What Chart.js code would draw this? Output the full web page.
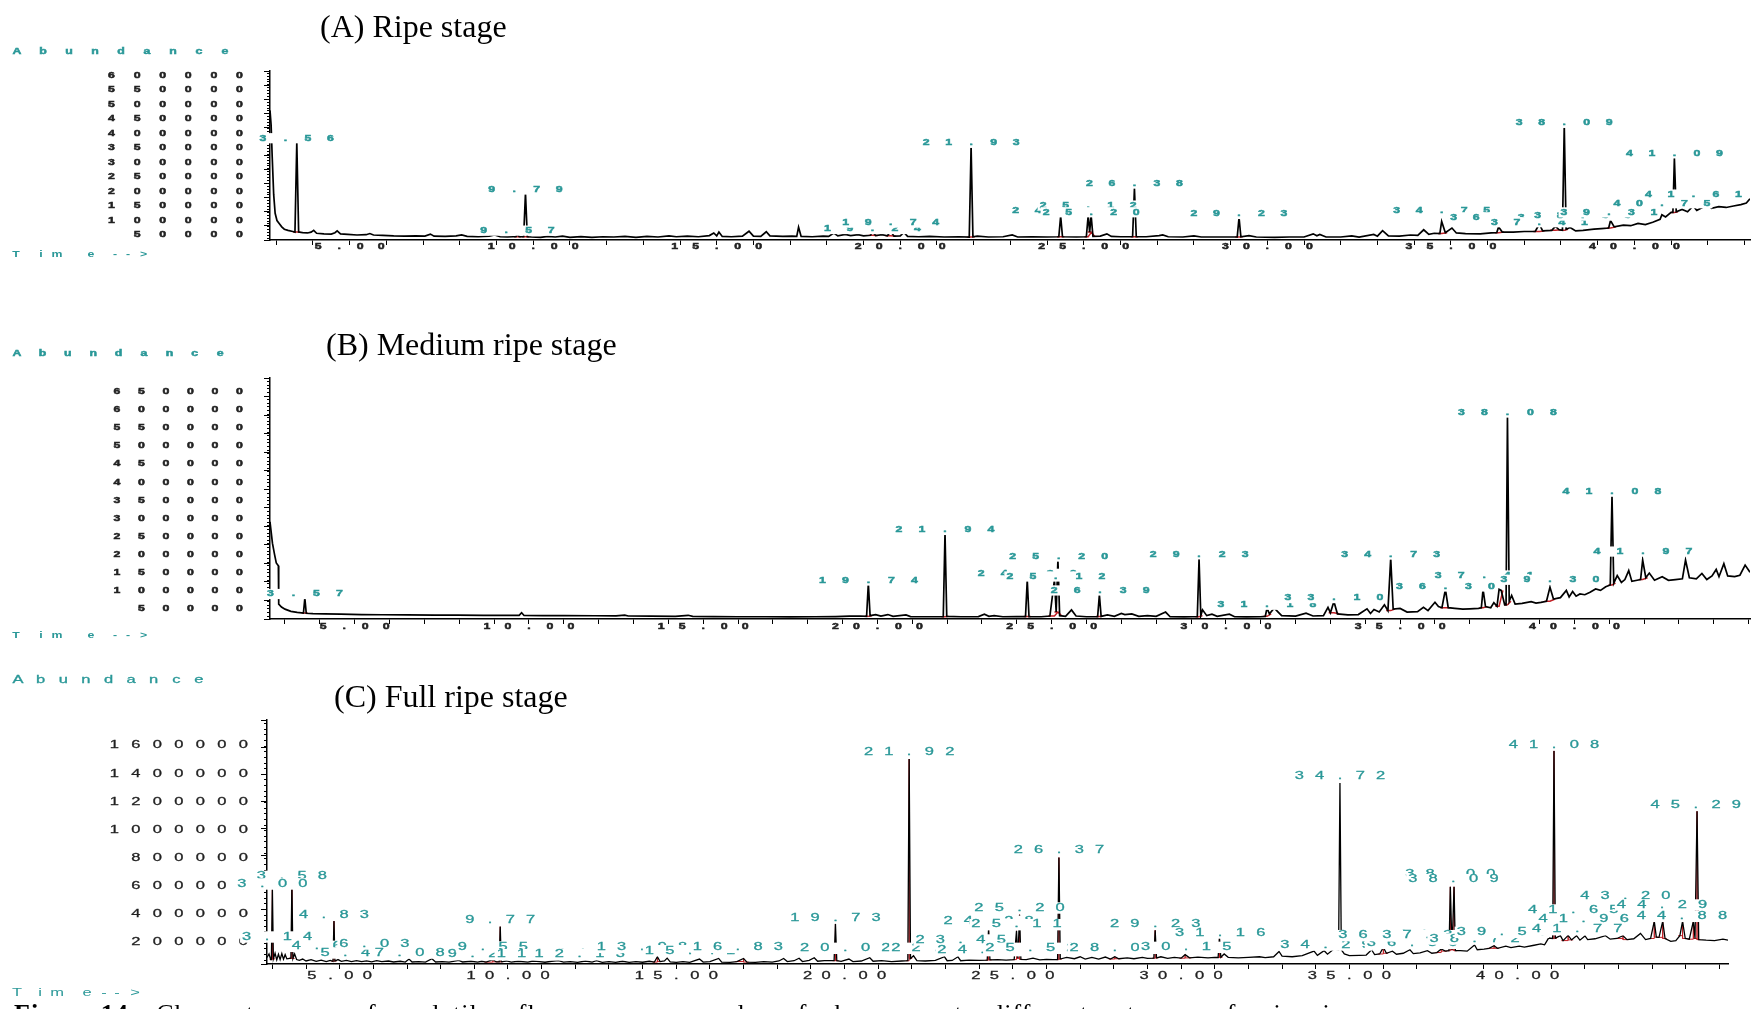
<!DOCTYPE html>
<html lang="en">
<head>
<meta charset="UTF-8">
<title>Chromatograms of banana volatiles</title>
<script src="https://cdn.jsdelivr.net/npm/chart.js@4.4.1/dist/chart.umd.min.js"></script>
<style>
    body { margin: 0; width: 1763px; height: 1009px; overflow: hidden; background: #fff; position: relative; }
    canvas { position: absolute; left: 0; }
    .ttl { position: absolute; font: 32px "Liberation Serif", "Times New Roman", serif; line-height: 1; color: #000; white-space: nowrap; }
    .cap { position: absolute; left: 14px; top: 1001px; font: 26px "Liberation Serif", "Times New Roman", serif; line-height: 1; white-space: nowrap; word-spacing: 20px; letter-spacing: 1px; }
</style>
</head>
<body>
<canvas id="chartA" width="1763" height="290" style="top:0"></canvas>
<canvas id="chartB" width="1763" height="370" style="top:290px"></canvas>
<canvas id="chartC" width="1763" height="349" style="top:660px"></canvas>
<div class="ttl" style="left:320px; top:10px">(A) Ripe stage</div>
<div class="ttl" style="left:326px; top:328px">(B) Medium ripe stage</div>
<div class="ttl" style="left:334px; top:680px">(C) Full ripe stage</div>
<div class="cap"><b style="word-spacing:0">Figure 14</b> Chromatogram of volatile flavour compounds of banana at different stages of ripening</div>

<script>
// ---- data: [retention time (min), abundance] ----
const traceA = [
    [2.83, 480000], [2.86, 430000], [2.89, 320000], [2.93, 190000], [2.97, 125000], [3.02, 100000], [3.08, 90000],
    [3.15, 78000], [3.22, 70000], [3.32, 66000], [3.45, 62000], [3.51, 60000], [3.56, 370000], [3.61, 60000],
    [3.72, 58000], [3.85, 57000], [3.95, 60000], [4.02, 66000], [4.1, 56000], [4.3, 54000], [4.5, 53000],
    [4.6, 58000], [4.66, 64000], [4.75, 54000], [4.95, 52000], [5.2, 50000], [5.45, 51000], [5.55, 55000],
    [5.65, 50000], [5.9, 49000], [6.2, 47000], [6.5, 46000], [6.8, 47000], [7.05, 46000], [7.2, 53000],
    [7.3, 46000], [7.6, 45000], [7.9, 47000], [8.05, 50000], [8.2, 45000], [8.5, 44000], [8.8, 46000],
    [8.95, 50000], [9.1, 44000], [9.3, 43000], [9.45, 44000], [9.53, 44000], [9.57, 54000], [9.62, 44000],
    [9.74, 44000], [9.79, 195000], [9.84, 44000], [9.95, 43000], [10.2, 42000], [10.4, 45000], [10.6, 43000],
    [10.8, 46000], [11.0, 42000], [11.3, 44000], [11.6, 42000], [11.9, 44000], [12.2, 43000], [12.5, 45000],
    [12.8, 42000], [13.1, 45000], [13.4, 43000], [13.7, 47000], [13.9, 44000], [14.2, 46000], [14.5, 44000],
    [14.8, 48000], [14.92, 57000], [15.0, 47000], [15.06, 60000], [15.15, 45000], [15.4, 44000], [15.7, 46000],
    [15.88, 63000], [16.0, 46000], [16.2, 45000], [16.35, 61000], [16.45, 47000], [16.8, 45000], [17.05, 46000],
    [17.18, 45000], [17.23, 77000], [17.3, 45000], [17.6, 44000], [17.9, 46000], [18.05, 45000], [18.19, 57000],
    [18.3, 47000], [18.5, 52000], [18.65, 48000], [18.85, 51000], [19.0, 47000], [19.19, 49000], [19.24, 62000],
    [19.33, 48000], [19.5, 51000], [19.65, 47000], [19.74, 63000], [19.83, 46000], [20.0, 47000], [20.1, 59000],
    [20.2, 45000], [20.5, 44000], [20.8, 45000], [21.2, 43000], [21.6, 44000], [21.88, 43000], [21.93, 355000],
    [21.98, 44000], [22.1, 46000], [22.4, 43000], [22.8, 44000], [23.05, 50000], [23.2, 43000], [23.6, 44000],
    [24.0, 43000], [24.32, 44000], [24.37, 115000], [24.42, 44000], [24.8, 43000], [25.07, 44000], [25.12, 118000],
    [25.16, 60000], [25.2, 118000], [25.25, 45000], [25.45, 46000], [25.63, 54000], [25.75, 45000], [26.0, 44000],
    [26.33, 44000], [26.38, 210000], [26.43, 44000], [26.7, 44000], [27.05, 48000], [27.15, 50000], [27.3, 44000],
    [27.7, 43000], [28.0, 47000], [28.2, 43000], [28.6, 43000], [29.0, 43000], [29.18, 43000], [29.23, 110000],
    [29.28, 44000], [29.5, 48000], [29.7, 43000], [30.2, 42000], [30.6, 43000], [31.0, 43000], [31.25, 54000],
    [31.35, 47000], [31.43, 52000], [31.6, 43000], [32.0, 43000], [32.3, 47000], [32.5, 43000], [32.9, 52000],
    [33.0, 46000], [33.14, 65000], [33.3, 47000], [33.6, 46000], [33.9, 50000], [34.1, 49000], [34.26, 68000],
    [34.4, 52000], [34.55, 56000], [34.7, 55000], [34.75, 97000], [34.85, 58000], [35.03, 74000], [35.15, 57000],
    [35.4, 55000], [35.8, 54000], [36.1, 57000], [36.25, 58000], [36.3, 78000], [36.4, 60000], [36.7, 60000],
    [37.0, 62000], [37.3, 62000], [37.41, 88000], [37.5, 64000], [37.75, 66000], [37.85, 80000], [37.95, 68000],
    [38.04, 66000], [38.09, 428000], [38.14, 70000], [38.25, 76000], [38.4, 64000], [38.6, 66000], [38.9, 70000],
    [39.1, 72000], [39.3, 74000], [39.35, 100000], [39.45, 78000], [39.7, 84000], [39.9, 82000], [40.1, 90000],
    [40.3, 86000], [40.5, 94000], [40.7, 104000], [40.75, 120000], [40.85, 112000], [41.0, 128000], [41.05, 128000],
    [41.09, 315000], [41.14, 130000], [41.3, 138000], [41.45, 130000], [41.6, 150000], [41.7, 135000],
    [41.85, 145000], [42.0, 158000], [42.1, 142000], [42.3, 148000], [42.5, 145000], [42.7, 150000],
    [42.9, 155000], [43.05, 160000], [43.15, 175000]
];
const traceB = [
    [2.57, 290000], [2.64, 231000], [2.7, 200000], [2.75, 176000], [2.81, 168000], [2.82, 62000], [2.9, 54000],
    [3.0, 48000], [3.17, 42000], [3.35, 39000], [3.53, 37000], [3.57, 79000], [3.61, 36500], [3.8, 35500],
    [4.13, 35000], [4.6, 34000], [5.2, 33000], [5.8, 32500], [6.5, 32000], [7.3, 31500], [7.96, 31600],
    [8.7, 31000], [9.3, 30800], [9.72, 31000], [9.79, 38000], [9.86, 30500], [10.4, 30200], [11.0, 30000],
    [11.9, 29700], [12.5, 29500], [12.75, 31500], [12.85, 29000], [13.5, 28500], [14.2, 28000], [14.57, 31000],
    [14.7, 28000], [15.3, 27500], [16.0, 27000], [16.8, 27000], [17.5, 26800], [18.2, 27000], [18.8, 27500],
    [19.2, 28500], [19.5, 29000], [19.69, 28000], [19.74, 120000], [19.79, 30000], [19.95, 33000], [20.1, 29000],
    [20.3, 33000], [20.45, 28000], [20.82, 32000], [20.95, 27500], [21.4, 27000], [21.89, 27000], [21.94, 259000],
    [21.99, 28000], [22.4, 27000], [22.9, 27500], [23.07, 34000], [23.2, 28000], [23.35, 30000], [23.6, 27000],
    [24.0, 27500], [24.25, 27500], [24.3, 129000], [24.35, 27500], [24.7, 27000], [24.95, 29000], [25.08, 129000],
    [25.13, 40000], [25.18, 185000], [25.23, 30000], [25.4, 28000], [25.57, 46000], [25.7, 29000], [26.0, 27000],
    [26.32, 27500], [26.37, 88000], [26.42, 28000], [26.6, 32000], [26.8, 28000], [27.0, 36000], [27.1, 33000],
    [27.3, 35000], [27.5, 28000], [27.75, 30000], [28.0, 28000], [28.27, 40000], [28.4, 27000], [28.8, 26500],
    [29.05, 27000], [29.18, 27000], [29.23, 187000], [29.28, 30000], [29.33, 46000], [29.45, 30000], [29.6, 34000],
    [29.75, 28000], [30.1, 34000], [30.25, 27000], [30.6, 26500], [31.0, 27000], [31.13, 28000], [31.18, 51000],
    [31.25, 35000], [31.39, 51000], [31.5, 40000], [31.6, 30000], [32.0, 28500], [32.3, 37000], [32.5, 29000],
    [32.8, 30000], [32.93, 53000], [33.0, 38000], [33.1, 69000], [33.2, 35000], [33.5, 32000], [33.8, 33000],
    [34.05, 49000], [34.15, 36000], [34.25, 47000], [34.4, 40000], [34.55, 60000], [34.65, 44000], [34.73, 189000],
    [34.8, 48000], [35.0, 50000], [35.2, 40000], [35.5, 41000], [35.67, 53000], [35.8, 44000], [36.0, 67000],
    [36.1, 55000], [36.2, 52000], [36.3, 103000], [36.38, 52000], [36.57, 50000], [36.8, 48000], [37.0, 49000],
    [37.25, 50000], [37.33, 52000], [37.38, 103000], [37.45, 55000], [37.6, 52000], [37.69, 66000], [37.78, 56000],
    [37.84, 103000], [37.9, 100000], [38.0, 60000], [38.04, 60000], [38.08, 581000], [38.13, 70000], [38.2, 86000],
    [38.3, 62000], [38.5, 64000], [38.76, 69000], [38.9, 65000], [39.04, 67000], [39.2, 70000], [39.3, 109000],
    [39.4, 76000], [39.6, 80000], [39.77, 100000], [39.85, 82000], [39.95, 97000], [40.05, 84000], [40.16, 90000],
    [40.3, 88000], [40.45, 95000], [40.61, 104000], [40.75, 100000], [40.9, 110000], [41.03, 115000],
    [41.08, 362000], [41.13, 120000], [41.23, 141000], [41.35, 122000], [41.45, 130000], [41.56, 155000],
    [41.65, 125000], [41.8, 128000], [41.9, 130000], [41.96, 184000], [42.05, 135000], [42.15, 148000],
    [42.3, 128000], [42.52, 138000], [42.7, 128000], [42.9, 130000], [43.1, 132000], [43.19, 184000],
    [43.3, 135000], [43.5, 132000], [43.66, 147000], [43.8, 130000], [43.95, 140000], [44.07, 158000],
    [44.15, 138000], [44.29, 174000], [44.4, 140000], [44.6, 138000], [44.75, 142000], [44.9, 170000],
    [45.04, 150000]
];
const traceC = [
    [2.84, 95000], [2.9, 120000], [2.95, 80000], [2.97, 80000], [3.0, 580000], [3.03, 85000], [3.08, 125000],
    [3.13, 78000], [3.18, 118000], [3.23, 80000], [3.28, 122000], [3.33, 82000], [3.38, 115000], [3.43, 85000],
    [3.55, 90000], [3.58, 620000], [3.61, 88000], [3.66, 120000], [3.72, 80000], [3.8, 75000], [3.9, 84000],
    [4.0, 70000], [4.15, 80000], [4.3, 68000], [4.45, 76000], [4.6, 66000], [4.72, 74000], [4.8, 68000],
    [4.83, 357000], [4.86, 70000], [4.95, 80000], [5.05, 68000], [5.2, 74000], [5.35, 66000], [5.5, 72000],
    [5.65, 65000], [5.8, 71000], [5.95, 64000], [6.1, 72000], [6.25, 66000], [6.45, 70000], [6.6, 63000],
    [6.8, 68000], [6.95, 62000], [7.06, 84000], [7.15, 63000], [7.35, 66000], [7.55, 62000], [7.74, 86000],
    [7.85, 63000], [8.05, 66000], [8.25, 62000], [8.54, 74000], [8.65, 63000], [8.9, 68000], [9.1, 62000],
    [9.22, 68000], [9.35, 62000], [9.55, 80000], [9.65, 64000], [9.74, 64000], [9.77, 316000], [9.8, 64000],
    [9.95, 70000], [10.1, 62000], [10.3, 68000], [10.59, 62000], [10.75, 70000], [10.93, 66000], [11.1, 61000],
    [11.3, 68000], [11.5, 72000], [11.65, 62000], [11.85, 66000], [12.07, 60000], [12.3, 70000], [12.5, 62000],
    [12.63, 72000], [12.8, 60000], [13.0, 66000], [13.2, 60000], [13.4, 68000], [13.6, 60000], [13.8, 66000],
    [14.0, 61000], [14.2, 68000], [14.35, 62000], [14.44, 100000], [14.52, 66000], [14.65, 70000], [14.73, 90000],
    [14.82, 64000], [15.0, 60000], [15.2, 66000], [15.4, 60000], [15.69, 84000], [15.8, 62000], [16.0, 66000],
    [16.26, 88000], [16.35, 62000], [16.6, 60000], [16.8, 66000], [17.0, 88000], [17.1, 62000], [17.35, 60000],
    [17.6, 66000], [17.85, 62000], [18.05, 70000], [18.19, 88000], [18.3, 66000], [18.5, 72000], [18.65, 90000],
    [18.75, 66000], [18.95, 74000], [19.1, 93000], [19.2, 68000], [19.4, 72000], [19.69, 72000], [19.73, 334000],
    [19.77, 72000], [19.9, 68000], [20.13, 84000], [20.25, 66000], [20.5, 70000], [20.75, 93000], [20.85, 68000],
    [21.1, 72000], [21.4, 66000], [21.7, 70000], [21.88, 72000], [21.92, 1505000], [21.96, 88000], [22.05, 107000],
    [22.15, 72000], [22.4, 70000], [22.7, 74000], [22.97, 100000], [23.05, 72000], [23.2, 74000], [23.37, 100000],
    [23.45, 72000], [23.7, 76000], [24.0, 74000], [24.24, 76000], [24.28, 300000], [24.32, 78000], [24.55, 80000],
    [24.8, 76000], [25.04, 80000], [25.11, 285000], [25.15, 90000], [25.2, 399000], [25.24, 82000], [25.4, 80000],
    [25.6, 90000], [25.8, 78000], [26.0, 82000], [26.2, 80000], [26.33, 80000], [26.37, 805000], [26.41, 84000],
    [26.6, 95000], [26.83, 86000], [27.0, 100000], [27.15, 84000], [27.35, 96000], [27.55, 84000], [27.75, 98000],
    [27.9, 84000], [28.03, 100000], [28.15, 86000], [28.4, 92000], [28.6, 86000], [28.85, 96000], [29.0, 88000],
    [29.19, 90000], [29.23, 288000], [29.27, 92000], [29.4, 100000], [29.6, 88000], [29.8, 96000], [30.0, 90000],
    [30.12, 115000], [30.25, 92000], [30.5, 98000], [30.8, 92000], [31.0, 96000], [31.1, 95000], [31.14, 238000],
    [31.18, 96000], [31.28, 120000], [31.4, 96000], [31.7, 92000], [32.0, 96000], [32.33, 100000], [32.5, 94000],
    [32.75, 100000], [32.91, 138000], [33.0, 104000], [33.3, 100000], [33.6, 108000], [33.95, 140000],
    [34.05, 110000], [34.25, 143000], [34.35, 118000], [34.54, 155000], [34.68, 150000], [34.72, 1335000],
    [34.76, 150000], [34.85, 120000], [35.0, 108000], [35.3, 110000], [35.5, 112000], [35.66, 150000],
    [35.75, 115000], [35.9, 120000], [36.01, 167000], [36.1, 125000], [36.28, 140000], [36.4, 118000],
    [36.6, 125000], [36.8, 150000], [36.9, 122000], [37.1, 128000], [37.32, 143000], [37.45, 125000],
    [37.6, 130000], [37.73, 155000], [37.85, 140000], [37.96, 143000], [38.0, 597000], [38.05, 150000],
    [38.11, 597000], [38.15, 143000], [38.3, 143000], [38.5, 140000], [38.72, 184000], [38.8, 150000],
    [39.0, 155000], [39.15, 160000], [39.3, 179000], [39.4, 160000], [39.65, 175000], [39.8, 165000],
    [40.05, 175000], [40.2, 168000], [40.45, 180000], [40.69, 191000], [40.8, 185000], [40.92, 233000],
    [41.04, 230000], [41.08, 1565000], [41.12, 232000], [41.27, 250000], [41.35, 215000], [41.5, 252000],
    [41.6, 220000], [41.75, 250000], [41.85, 218000], [42.0, 248000], [42.08, 222000], [42.3, 228000],
    [42.61, 250000], [42.75, 225000], [42.95, 230000], [43.13, 250000], [43.25, 222000], [43.45, 228000],
    [43.65, 266000], [43.8, 222000], [43.95, 230000], [44.06, 352000], [44.12, 240000], [44.2, 238000],
    [44.31, 352000], [44.38, 230000], [44.55, 210000], [44.7, 215000], [44.82, 250000], [44.9, 352000],
    [44.98, 230000], [45.1, 225000], [45.22, 352000], [45.27, 230000], [45.33, 1134000], [45.38, 222000],
    [45.6, 218000], [45.85, 215000], [46.1, 225000], [46.25, 218000]
];

// peak annotations (retention time text) and the abundance level they are printed at
const labelsA = ['3.56', '9.57', '9.79', '19.24', '19.74', '21.93', '24.37', '25.12', '25.20', '26.38', '29.23',
    '34.75', '36.30', '37.41', '38.09', '38.59', '39.31', '40.75', '41.09', '41.61'];
const labelLevelsA = [384000, 65000, 207000, 70700, 92700, 368000, 134000, 151500, 128400, 228700, 122600,
    134000, 111000, 94000, 437000, 117000, 128000, 159500, 332500, 189500];
const labelsB = ['3.57', '19.74', '21.94', '24.30', '25.12', '25.20', '26.39', '29.23', '31.18', '33.10', '34.73',
    '37.41', '36.30', '39.30', '38.08', '41.08', '41.97'];
const labelLevelsB = [90000, 127400, 267600, 146000, 138500, 193800, 99800, 200000, 60200, 78700, 199300,
    141300, 110800, 129400, 593000, 373600, 207600];
const labelsC = ['3.58', '3.00', '3.14', '4.62', '5.47', '4.83', '6.03', '7.08', '9.25', '9.55', '9.77', '11.01',
    '12.13', '13.98', '15.41', '16.83', '20.02', '19.73', '21.92', '22.73', '23.45', '24.10', '24.28', '25.52',
    '25.20', '25.11', '26.37', '28.03', '29.23', '30.15', '31.16', '34.29', '36.86', '36.01', '37.32', '38.00',
    '38.09', '38.72', '39.53', '34.72', '41.08', '45.29', '43.20', '41.65', '44.29', '44.88', '41.96', '41.77'];
const labelLevelsC = [671600, 617200, 240500, 174200, 126800, 394500, 190700, 126800, 114900, 169400, 356600,
    114900, 114900, 167000, 143000, 167000, 160000, 375500, 1552900, 160000, 219200, 143400, 351800, 160000,
    446600, 328100, 854100, 160000, 332900, 167000, 268900, 183600, 195500, 250000, 250000, 688200,
    648000, 226000, 273700, 1380000, 1605000, 1178600, 529500, 432400, 467900, 387400, 363700, 292600];

// peaks carrying the red integration marks
const redA = [3.56, 9.57, 9.79, 19.24, 19.74, 21.93, 24.37, 25.12, 25.2, 26.38, 29.23, 34.75, 36.3, 37.41, 37.85,
    38.09, 39.35, 41.09];
const redB = [3.57, 19.74, 21.94, 24.3, 25.08, 25.18, 26.37, 29.23, 31.18, 33.1, 34.73, 36.3, 37.38, 37.84, 38.08,
    39.3, 41.08, 41.96];
const redC = [3.0, 3.58, 4.83, 9.55, 9.77, 14.44, 17.0, 19.73, 21.92, 24.28, 25.11, 25.2, 26.37, 28.03, 29.23,
    30.12, 31.14, 36.01, 37.73, 38.0, 38.11, 39.3, 41.08, 41.5, 43.13, 44.06, 44.31, 44.9, 45.22, 45.33];

// axis tick labels
const yTicksA = [50000, 100000, 150000, 200000, 250000, 300000, 350000, 400000, 450000, 500000, 550000, 600000];
const yTicksB = [50000, 100000, 150000, 200000, 250000, 300000, 350000, 400000, 450000, 500000, 550000, 600000, 650000];
const yTicksC = [200000, 400000, 600000, 800000, 1000000, 1200000, 1400000, 1600000];
const timeTicks = [5, 10, 15, 20, 25, 30, 35, 40];

// ---- drawing helpers ----
const teal = '#2a9898';
const small = { font: 'bold 11px "Liberation Sans", Arial, sans-serif', sx: 1.12, sy: 0.78, cw: 7, ch: 6.2, stroke: 0.6 };
const big = { font: '11px "Liberation Sans", Arial, sans-serif', sx: 1.5, sy: 0.92, cw: 9.2, ch: 7.4, stroke: 0.3 };

// text drawn one glyph at a time on a fixed pitch, like the instrument printout
function spaced(ctx, text, x, y, st, pitch, color, align, box) {
    const n = text.length, span = (n - 1) * pitch;
    let first = x - span / 2;
    if (align === 'right') first = x - st.cw / 2 - span;
    if (align === 'left') first = x + st.cw / 2;
    ctx.save();
    if (box) {
        ctx.fillStyle = '#fff';
        ctx.fillRect(first - st.cw / 2 - 2, y - st.ch / 2 - 2, span + st.cw + 4, st.ch + 4);
    }
    ctx.font = st.font;
    ctx.fillStyle = color;
    ctx.strokeStyle = color;
    ctx.lineWidth = st.stroke;
    ctx.textAlign = 'center';
    ctx.textBaseline = 'middle';
    for (let i = 0; i < n; i++) {
        ctx.save();
        ctx.translate(first + i * pitch, y);
        ctx.scale(st.sx, st.sy);
        ctx.fillText(text[i], 0, 0);
        ctx.strokeText(text[i], 0, 0);
        ctx.restore();
    }
    ctx.restore();
}

function atOffsets(ctx, text, xs, y, st, color) {
    ctx.save();
    ctx.font = st.font;
    ctx.fillStyle = color;
    ctx.textAlign = 'center';
    ctx.textBaseline = 'middle';
    for (let i = 0; i < text.length; i++) {
        ctx.save();
        ctx.translate(xs[i], y);
        ctx.scale(st.sx, st.sy);
        ctx.fillText(text[i], 0, 0);
        ctx.restore();
    }
    ctx.restore();
}

// red integration baseline under a peak, optionally with the drop line at the apex
function redMarks(trace, times, withDrop) {
    const out = [];
    times.forEach(t => {
        const i = trace.findIndex(p => p[0] === t);
        if (i < 1 || i >= trace.length - 1) return;
        const a = trace[i - 1], b = trace[i + 1];
        out.push({ x: a[0] - 0.05, y: a[1] }, { x: t, y: a[1] });
        if (withDrop) out.push({ x: t, y: trace[i][1] }, { x: t, y: b[1] });
        out.push({ x: b[0] + 0.05, y: b[1] }, { x: b[0] + 0.06, y: null });
    });
    return out;
}

function makeChart(id, p) {
    const textLayer = {
        id: 'text' + id,
        afterDraw(chart) {
            const ctx = chart.ctx, xs = chart.scales.x, ys = chart.scales.y, ca = chart.chartArea;
            // minor ticks on the abundance axis
            ctx.save();
            ctx.strokeStyle = '#000';
            ctx.lineWidth = 1;
            for (let v = Math.ceil(ys.min / p.minor) * p.minor; v <= ys.max; v += p.minor) {
                const y = Math.round(ys.getPixelForValue(v)) + 0.5;
                ctx.beginPath();
                ctx.moveTo(ca.left - 3, y);
                ctx.lineTo(ca.left, y);
                ctx.stroke();
            }
            ctx.restore();
            p.yTicks.forEach(v => spaced(ctx, String(v), p.yRight, ys.getPixelForValue(v), p.st, p.yPitch, '#222', 'right'));
            timeTicks.forEach(t => spaced(ctx, t.toFixed(2), xs.getPixelForValue(t), p.xLabelY, p.st, p.xPitch, '#222', 'center'));
            spaced(ctx, 'Abundance', 13.5, p.abundY, p.st, p.abundPitch, teal, 'left');
            atOffsets(ctx, 'Time-->', p.timeXs, p.timeY, p.st, teal);
            p.labels.forEach((txt, i) => spaced(ctx, txt, xs.getPixelForValue(parseFloat(txt)),
                ys.getPixelForValue(p.levels[i]), p.st, p.peakPitch, teal, 'center', true));
        }
    };
    return new Chart(document.getElementById(id), {
        type: 'line',
        data: {
            datasets: [
                { data: p.trace.map(d => ({ x: d[0], y: d[1] })), borderColor: '#000', borderWidth: p.lw, pointRadius: 0, tension: 0 },
                { data: redMarks(p.trace, p.red, p.drop), borderColor: '#c01f25', borderWidth: p.redW, pointRadius: 0, tension: 0, spanGaps: false }
            ]
        },
        options: {
            responsive: false,
            animation: false,
            layout: { padding: p.pad },
            plugins: { legend: { display: false }, tooltip: { enabled: false } },
            scales: {
                x: {
                    type: 'linear', min: p.xMin, max: p.xMax,
                    ticks: { display: false, stepSize: 1, includeBounds: false, autoSkip: false },
                    grid: { drawOnChartArea: false, drawTicks: true, tickLength: 5, color: '#000', lineWidth: 1 },
                    border: { display: true, color: '#000', width: 1.5 },
                    afterFit: s => { s.height = 0; }
                },
                y: {
                    type: 'linear', min: p.yMin, max: p.yMax,
                    ticks: { display: false, stepSize: p.major, includeBounds: false, autoSkip: false },
                    grid: { drawOnChartArea: false, drawTicks: true, tickLength: 6, color: '#000', lineWidth: 1 },
                    border: { display: true, color: '#000', width: 1.5 },
                    afterFit: s => { s.width = 0; }
                }
            }
        },
        plugins: [textLayer]
    });
}

makeChart('chartA', {
    trace: traceA, red: redA, drop: false, redW: 1.5, labels: labelsA, levels: labelLevelsA, yTicks: yTicksA, lw: 1.7,
    pad: { left: 270, right: 13, top: 71, bottom: 50 },
    xMin: 2.83, xMax: 43.15, yMin: 32700, yMax: 616000, major: 50000, minor: 10000,
    st: small, yRight: 243, yPitch: 25.6, xPitch: 21, xLabelY: 247, peakPitch: 22.5,
    abundY: 51.7, abundPitch: 26, timeY: 255, timeXs: [16, 41, 57, 91, 115, 128, 143.5]
});
makeChart('chartB', {
    trace: traceB, red: redB, drop: false, redW: 1.5, labels: labelsB, levels: labelLevelsB, yTicks: yTicksB, lw: 1.7,
    pad: { left: 270, right: 13, top: 88, bottom: 41 },
    xMin: 2.57, xMax: 45.04, yMin: 20700, yMax: 688700, major: 50000, minor: 10000,
    st: small, yRight: 243, yPitch: 24.5, xPitch: 21, xLabelY: 336.7, peakPitch: 23,
    abundY: 64, abundPitch: 25.4, timeY: 346, timeXs: [16, 41, 57, 91, 115, 128, 143.5]
});
makeChart('chartC', {
    trace: traceC, red: redC, drop: true, redW: 1, labels: labelsC, levels: labelLevelsC, yTicks: yTicksC, lw: 1.3,
    pad: { left: 267, right: 35, top: 60, bottom: 45 },
    xMin: 2.84, xMax: 46.25, yMin: 48600, yMax: 1782700, major: 200000, minor: 40000,
    st: big, yRight: 248, yPitch: 21.5, xPitch: 18.5, xLabelY: 316, peakPitch: 20.3,
    abundY: 20, abundPitch: 22.6, timeY: 333, timeXs: [17, 40, 57, 87, 104, 117, 135]
});
</script>
</body>
</html>
